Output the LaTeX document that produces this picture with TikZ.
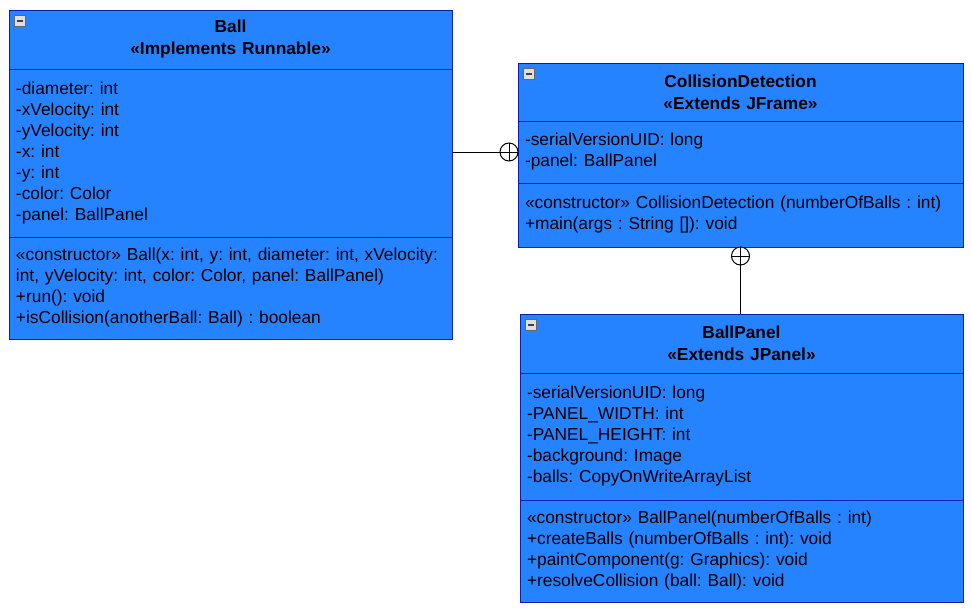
\documentclass[tikz,border=0pt]{standalone}
\usepackage{fontspec}
\setmainfont{Liberation Sans}
\usetikzlibrary{positioning}
\frenchspacing
\definecolor{umlblue}{HTML}{2683FF}
\definecolor{umledge}{HTML}{0A1EB0}
\tikzset{
    BOX/.style ={rectangle, draw=umledge, fill=umlblue, line width=0.75pt, outer sep=0pt, inner xsep=5.25pt, inner ysep=0pt},
    HD/.style ={BOX, align=center, font=\fontsize{13}{16.5}\selectfont\bfseries},
    AT/.style ={BOX, align=left, font=\fontsize{13}{15.75}\selectfont},
    PL/.style ={circle, draw, line width=0.75pt, minimum size=13.5pt, inner sep=0pt, outer sep=0pt, fill=white,
        path picture={\draw[line width=0.75pt] (path picture bounding box.north) -- (path picture bounding box.south)
        (path picture bounding box.west) -- (path picture bounding box.east);}},
    IC/.style ={rectangle, draw=gray!80!black, fill=gray!25, minimum size=8pt, inner sep=0pt,
        path picture={\draw[line width=1.2pt, black!75] ([xshift=1.6pt]path picture bounding box.west) -- ([xshift=-1.6pt]path picture bounding box.east);}}}

\begin{document}
\begin{tikzpicture}[x=0.75pt,y=-0.75pt]
        \useasboundingbox (0,0) rectangle (972,612);
        \node[HD, text width=321.75pt, minimum height=44.25pt, anchor=north west] (b1) at (9,10) {Ball\\«Implements Runnable»};
        \node[AT, text width=321.75pt, minimum height=126pt, below=0pt of b1] (b2) {-diameter: int\\-xVelocity: int\\-yVelocity: int\\-x: int\\-y: int\\-color: Color\\-panel: BallPanel};
        \node[AT, text width=321.75pt, minimum height=76.5pt, below=0pt of b2] (b3) {«constructor» Ball(x: int, y: int, diameter: int, xVelocity:\\int, yVelocity: int, color: Color, panel: BallPanel)\\+run(): void\\+isCollision(anotherBall: Ball) : boolean};
        \node[HD, text width=323.25pt, minimum height=43.5pt, anchor=north west] (c1) at (518,63) {CollisionDetection\\«Extends JFrame»};
        \node[AT, text width=323.25pt, minimum height=46.5pt, below=0pt of c1] (c2) {-serialVersionUID: long\\-panel: BallPanel};
        \node[AT, text width=323.25pt, minimum height=48pt, below=0pt of c2] (c3) {«constructor» CollisionDetection (numberOfBalls : int)\\+main(args : String []): void};
        \node[HD, text width=321.75pt, minimum height=44.25pt, anchor=north west] (d1) at (520,314) {BallPanel\\«Extends JPanel»};
        \node[AT, text width=321.75pt, minimum height=95.25pt, below=0pt of d1] (d2) {-serialVersionUID: long\\-PANEL\_WIDTH: int\\-PANEL\_HEIGHT: int\\-background: Image\\-balls: CopyOnWriteArrayList};
        \node[AT, text width=321.75pt, minimum height=76.5pt, below=0pt of d2] (d3) {«constructor» BallPanel(numberOfBalls : int)\\+createBalls (numberOfBalls : int): void\\+paintComponent(g: Graphics): void\\+resolveCollision (ball: Ball): void};
        \node[IC] (i1) at ([shift={(11,11)}]b1.north west) {};
        \node[IC] (i2) at ([shift={(11,11)}]c1.north west) {};
        \node[IC] (i3) at ([shift={(11,11)}]d1.north west) {};
        \node[PL, left=0pt of c2] (p1) {};
        \node[PL, below=0pt of c3] (p2) {};
        \draw[line width=0.75pt] (p1.west) -- (p1.west -| b2.east);
        \draw[line width=0.75pt] (p2.south) -- (p2.south |- d1.north);
    \end{tikzpicture}
\end{document}
